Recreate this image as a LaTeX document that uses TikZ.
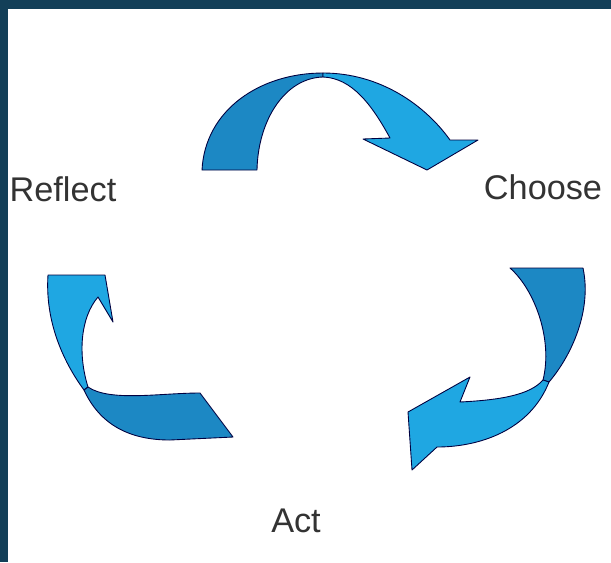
\documentclass[tikz,border=0pt]{standalone}
\usepackage{fontspec}
\setmainfont{Liberation Sans}
\definecolor{frameblue}{HTML}{133F58}
\definecolor{banddark}{HTML}{1C88C4}
\definecolor{bandlight}{HTML}{1FA7E2}
\tikzset{
  band/.style={draw=black!75!blue,line width=0.5pt},
  cyclelabel/.style={font=\fontsize{19.5}{22}\selectfont,text=black!80,inner sep=0pt},
}
\begin{document}
\begin{tikzpicture}[x=0.02cm,y=-0.02cm,line cap=round,line join=round]
  \useasboundingbox (0,0) rectangle (611,562);
  \fill[white] (0,0) rectangle (611,562);
  \fill[frameblue] (0,0) rectangle (611,9);
  \fill[frameblue] (0,0) rectangle (8,562);
  % top arrow: Reflect -> Choose
  \draw[band,fill=banddark] (202,170) .. controls (205,110) and (260,73) .. (323,73)
    -- (323,77) .. controls (285,78) and (258,120) .. (257,170) -- cycle;
  \draw[band,fill=bandlight] (323,73) .. controls (380,73) and (425,105) .. (450,140)
    -- (478,140) -- (427,170) -- (363,139) -- (390,138)
    .. controls (372,105) and (352,78) .. (323,77) -- cycle;
  % right arrow: Choose -> Act
  \draw[band,fill=banddark] (510,268) -- (583,268)
    .. controls (592,310) and (572,355) .. (549,382) -- (543,380)
    .. controls (553,340) and (535,290) .. (510,268) -- cycle;
  \draw[band,fill=bandlight] (549,382) .. controls (530,430) and (480,447) .. (437,447)
    -- (412,470) -- (408,412) -- (470,377) -- (460,402)
    .. controls (500,400) and (530,395) .. (543,380) -- cycle;
  % left arrow: Act -> Reflect
  \draw[band,fill=bandlight] (98,297) -- (113,322) -- (105,275) -- (48,275)
    .. controls (45,320) and (62,360) .. (84,390) -- (88,387)
    .. controls (78,355) and (80,318) .. (98,297) -- cycle;
  \draw[band,fill=banddark] (84,390) .. controls (100,425) and (130,440) .. (170,440)
    -- (233,437) -- (200,393) .. controls (160,393) and (110,402) .. (88,387) -- cycle;
  % labels
  \node[cyclelabel] (reflect) at (63,189) {Reflect};
  \node[cyclelabel] (choose) at (543,187) {Choose};
  \node[cyclelabel] (act) at (296,521) {Act};
\end{tikzpicture}
\end{document}
